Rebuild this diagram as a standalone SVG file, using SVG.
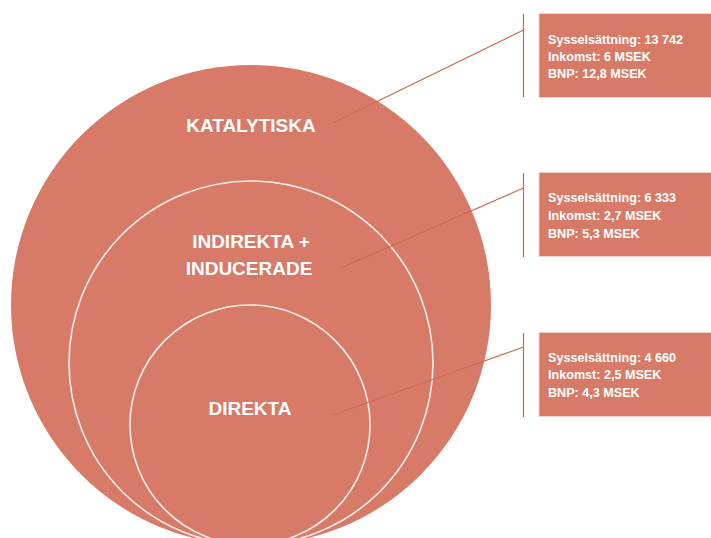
<svg xmlns="http://www.w3.org/2000/svg" width="711" height="538" viewBox="0 0 711 538">
  <style>
    .ring { fill: #d77b68; stroke: #fbeee9; stroke-width: 1.6; }
    .outer { fill: #d77b68; stroke: none; }
    .label { font-family: "Liberation Sans", Arial, sans-serif; font-weight: bold; font-size: 19px; fill: #ffffff; text-anchor: middle; }
    .box { fill: #d77b68; stroke: #f2d2c9; stroke-width: 1; }
    .info { font-family: "Liberation Sans", Arial, sans-serif; font-weight: bold; font-size: 12.6px; fill: #ffffff; }
    .leader { fill: none; stroke: #d0654c; stroke-width: 1.2; }
  </style>

  <!-- nested rings, all touching at the bottom -->
  <g id="katalytiska">
    <circle class="outer" cx="251" cy="305" r="240"/>
    <text class="label" x="251" y="132">KATALYTISKA</text>
  </g>
  <g id="indirekta">
    <circle class="ring" cx="251" cy="363" r="182"/>
    <text class="label" x="251" y="248">INDIREKTA +</text>
    <text class="label" x="249" y="275">INDUCERADE</text>
  </g>
  <g id="direkta">
    <circle class="ring" cx="250" cy="425" r="120"/>
    <text class="label" x="250" y="415">DIREKTA</text>
  </g>

  <!-- figure boxes -->
  <g id="box-katalytiska">
    <rect class="box" x="539" y="13.5" width="173" height="84"/>
    <text class="info" x="548" y="44">Sysselsättning: 13 742</text>
    <text class="info" x="548" y="61">Inkomst: 6 MSEK</text>
    <text class="info" x="548" y="78">BNP: 12,8 MSEK</text>
  </g>
  <g id="box-indirekta">
    <rect class="box" x="539" y="172.5" width="173" height="84"/>
    <text class="info" x="548" y="202">Sysselsättning: 6 333</text>
    <text class="info" x="548" y="220">Inkomst: 2,7 MSEK</text>
    <text class="info" x="548" y="238">BNP: 5,3 MSEK</text>
  </g>
  <g id="box-direkta">
    <rect class="box" x="539" y="332.5" width="173" height="84"/>
    <text class="info" x="548" y="362">Sysselsättning: 4 660</text>
    <text class="info" x="548" y="379">Inkomst: 2,5 MSEK</text>
    <text class="info" x="548" y="397">BNP: 4,3 MSEK</text>
  </g>

  <!-- leader lines with bracket ticks -->
  <g id="connectors">
    <path class="leader" d="M333,123 L523.5,30"/>
    <path class="leader" d="M523.5,14 V97"/>
    <path class="leader" d="M341,268 L523.5,188"/>
    <path class="leader" d="M523.5,173 V257"/>
    <path class="leader" d="M333,415 L523.5,347"/>
    <path class="leader" d="M523.5,333 V417"/>
  </g>
</svg>
